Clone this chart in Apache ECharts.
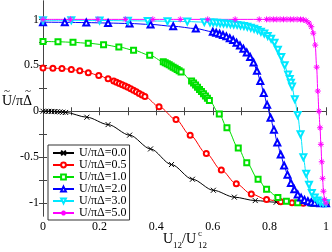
<!DOCTYPE html>
<html><head><meta charset="utf-8">
<script src="https://cdn.jsdelivr.net/npm/echarts@6/dist/echarts.min.js"></script>
<style>html,body{margin:0;padding:0;background:#fff}#c{width:332px;height:252px}</style>
</head><body><div id="c"></div>
<script>
const seriesNames = ['U/πΔ=0.0','U/πΔ=0.5','U/πΔ=1.0','U/πΔ=2.0','U/πΔ=3.0','U/πΔ=5.0'];
const xTicks = [0,0.1,0.2,0.3,0.4,0.5,0.6,0.7,0.8,0.9,1];
const xLabels = [0,0.2,0.4,0.6,0.8,1];
const yTicks = [-1,-0.75,-0.5,-0.25,0,0.25,0.5,0.75,1];
const yLabels = [-1,-0.5,0,0.5,1];

const x00 = [0,0.01,0.02,0.03,0.04,0.05,0.06,0.07,0.08,0.155,0.23,0.306,0.38,0.454,0.528,0.602,0.676,0.75,0.824,0.9,0.97,1.0];
const y00 = [0,-0.0005,-0.001,-0.002,-0.003,-0.005,-0.007,-0.01,-0.013,-0.065,-0.145,-0.26,-0.41,-0.58,-0.74,-0.86,-0.935,-0.972,-0.99,-0.998,-1.0,-1.0];

const x05 = [0,0.035,0.067,0.1,0.13,0.16,0.197,0.23,0.25,0.26,0.27,0.28,0.29,0.30,0.31,0.32,0.33,0.34,0.35,0.36,0.41,0.47,0.52,0.577,0.63,0.683,0.736,0.79,0.84,0.88,0.92,0.96,1.0];
const y05 = [0.47,0.468,0.465,0.455,0.44,0.42,0.39,0.355,0.33,0.317,0.303,0.289,0.275,0.26,0.244,0.228,0.211,0.194,0.177,0.16,0.05,-0.09,-0.26,-0.46,-0.64,-0.79,-0.9,-0.96,-0.985,-0.995,-1,-1,-1];

const x10 = [0,0.053,0.106,0.16,0.214,0.268,0.32,0.377,0.425,0.432,0.439,0.446,0.453,0.46,0.467,0.474,0.481,0.488,0.525,0.532,0.539,0.546,0.553,0.56,0.567,0.574,0.581,0.588,0.623,0.65,0.69,0.72,0.76,0.79,0.83,0.86,0.9,0.95,1.0];
const y10 = [0.76,0.757,0.75,0.74,0.725,0.70,0.665,0.61,0.54,0.528,0.517,0.505,0.493,0.48,0.467,0.454,0.441,0.428,0.33,0.308,0.285,0.262,0.238,0.214,0.19,0.166,0.142,0.118,-0.03,-0.18,-0.40,-0.56,-0.74,-0.85,-0.94,-0.98,-0.995,-1,-1];

const x20 = [0,0.077,0.153,0.23,0.306,0.38,0.46,0.54,0.60,0.612,0.624,0.636,0.648,0.66,0.672,0.684,0.696,0.708,0.72,0.732,0.744,0.756,0.768,0.78,0.792,0.804,0.816,0.828,0.84,0.852,0.864,0.876,0.888,0.90,0.912,0.924,0.936,0.948,0.96,0.98,1.0];
const y20 = [0.97,0.968,0.965,0.96,0.955,0.945,0.925,0.90,0.865,0.855,0.843,0.83,0.815,0.795,0.775,0.745,0.715,0.68,0.64,0.59,0.53,0.44,0.33,0.20,0.07,-0.07,-0.20,-0.34,-0.47,-0.59,-0.69,-0.78,-0.85,-0.905,-0.94,-0.965,-0.98,-0.99,-0.996,-1,-1];

const x30 = [0,0.1,0.2,0.3,0.37,0.44,0.51,0.57,0.59,0.602,0.614,0.626,0.638,0.65,0.662,0.674,0.686,0.698,0.71,0.722,0.734,0.746,0.758,0.77,0.782,0.794,0.806,0.818,0.83,0.842,0.854,0.866,0.872,0.876,0.88,0.89,0.90,0.91,0.92,0.93,0.94,0.95,0.96,0.97,0.98,0.99,1.0];
const y30 = [0.99,0.99,0.988,0.985,0.983,0.98,0.976,0.97,0.967,0.965,0.962,0.958,0.955,0.952,0.948,0.944,0.94,0.934,0.928,0.92,0.91,0.898,0.884,0.866,0.845,0.82,0.79,0.745,0.67,0.59,0.50,0.40,0.35,0.31,0.27,0.13,-0.04,-0.25,-0.50,-0.68,-0.80,-0.89,-0.94,-0.97,-0.99,-1,-1];

const x50 = [0,0.097,0.194,0.291,0.388,0.485,0.582,0.679,0.764,0.79,0.802,0.814,0.826,0.838,0.85,0.862,0.874,0.886,0.898,0.91,0.92,0.93,0.94,0.948,0.955,0.962,0.967,0.971,0.975,0.979,0.982,0.985,0.988,0.991,0.995,1.0];
const y50 = [1,1,1,1,1,1,1,1,1,1,1,1,1,1,1,1,1,1,1,0.999,0.996,0.985,0.96,0.92,0.85,0.72,0.48,0.22,0.0,-0.18,-0.36,-0.55,-0.73,-0.87,-0.96,-1.0];

const FONT = '"Liberation Serif","DejaVu Serif",serif';
const zip = (xs, ys) => xs.map((x, i) => [x, ys[i]]);

const crossPath = 'path://M0,0L10,10M10,0L0,10';
const starPath = 'path://M5,0L5,10M0,5L10,5M1.5,1.5L8.5,8.5M1.5,8.5L8.5,1.5';

const defs = [
  {data: zip(x00, y00), color: '#000000', symbol: crossPath, size: 5, stroke: true},
  {data: zip(x05, y05), color: '#ff0000', symbol: 'emptyCircle', size: 5},
  {data: zip(x10, y10), color: '#00e000', symbol: 'emptyRect', size: 5},
  {data: zip(x20, y20), color: '#0000ff', symbol: 'emptyTriangle', size: 6},
  {data: zip(x30, y30), color: '#00e8ff', symbol: 'emptyTriangle', size: 6, rotate: 180},
  {data: zip(x50, y50), color: '#ff00ff', symbol: starPath, size: 6, stroke: true}
];

const series = defs.map((d, i) => ({
  name: seriesNames[i],
  type: 'line',
  data: d.data,
  smooth: 0.3,
  smoothMonotone: 'x',
  symbol: d.symbol,
  symbolSize: d.size,
  symbolRotate: d.rotate || 0,
  showAllSymbol: true,
  lineStyle: {color: d.color, width: 1},
  itemStyle: d.stroke ? {color: 'transparent', borderColor: d.color, borderWidth: 1} : {color: d.color, borderWidth: 1},
  emphasis: {disabled: true}
}));

const axisLine = {show: true, lineStyle: {color: '#444', width: 1}};
const chart = echarts.init(document.getElementById('c'), null, {renderer: 'canvas'});
chart.setOption({
  animation: false,
  backgroundColor: '#fff',
  grid: {left: 43, right: 4, top: 1, bottom: 36, containLabel: false},
  legend: {
    orient: 'vertical', left: 48, top: 145,
    padding: [2, 3, 1, 4], itemGap: 0, itemWidth: 21, itemHeight: 6,
    borderColor: '#333', borderWidth: 1, backgroundColor: '#fff',
    textStyle: {fontFamily: FONT, fontSize: 12, color: '#000', lineHeight: 11},
    data: seriesNames
  },
  xAxis: [
    {type: 'value', position: 'bottom', min: 0, max: 1, axisLine,
      splitLine: {show: false},
      axisTick: {inside: true, length: 4, customValues: xTicks, lineStyle: {color: '#444'}},
      axisLabel: {customValues: xLabels, fontFamily: FONT, fontSize: 12, color: '#000', margin: 5}},
    {type: 'value', position: 'top', min: 0, max: 1, axisLine,
      splitLine: {show: false},
      axisTick: {inside: true, length: 4, customValues: xTicks, lineStyle: {color: '#444'}},
      axisLabel: {show: false}}
  ],
  yAxis: [
    {type: 'value', position: 'left', min: -1.14, max: 1.2, axisLine,
      splitLine: {show: false},
      axisTick: {inside: true, length: 4, customValues: yTicks, lineStyle: {color: '#444'}},
      axisLabel: {customValues: yLabels, fontFamily: FONT, fontSize: 12, color: '#000', margin: 4}},
    {type: 'value', position: 'right', min: -1.14, max: 1.2, axisLine,
      splitLine: {show: false},
      axisTick: {inside: true, length: 4, customValues: yTicks, lineStyle: {color: '#444'}},
      axisLabel: {show: false}}
  ],
  graphic: [
    {type: 'text', left: 2, top: 94, style: {text: 'U/πΔ', font: '14px ' + FONT, fill: '#000'}},
    {type: 'text', left: 4, top: 86, style: {text: '~', font: '11px ' + FONT, fill: '#000'}},
    {type: 'text', left: 25, top: 86, style: {text: '~', font: '11px ' + FONT, fill: '#000'}},
    {type: 'text', left: 163, top: 232, style: {text: 'U', font: '14px ' + FONT, fill: '#000'}},
    {type: 'text', left: 173, top: 241, style: {text: '12', font: '9px ' + FONT, fill: '#000'}},
    {type: 'text', left: 182, top: 232, style: {text: '/U', font: '14px ' + FONT, fill: '#000'}},
    {type: 'text', left: 198, top: 229, style: {text: 'c', font: '9px ' + FONT, fill: '#000'}},
    {type: 'text', left: 198, top: 241, style: {text: '12', font: '9px ' + FONT, fill: '#000'}}
  ],
  series
});
</script></body></html>
